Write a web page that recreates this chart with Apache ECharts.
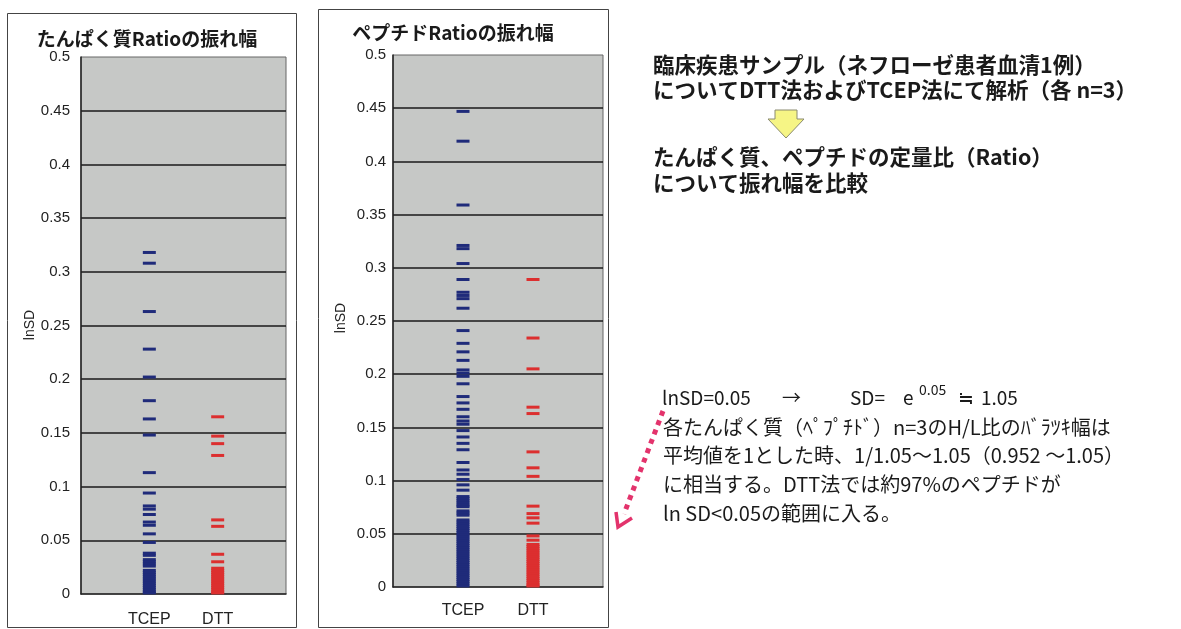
<!DOCTYPE html>
<html>
<head>
<meta charset="utf-8">
<script src="https://cdn.jsdelivr.net/npm/echarts@6/dist/echarts.min.js"></script>
<style>
  html, body { margin: 0; padding: 0; background: #ffffff; }
  #chart { width: 1181px; height: 629px; }
</style>
</head>
<body>
<div id="chart"></div>
<script>
// Reduction methods compared on the x axis
const categories = ['TCEP', 'DTT'];

// lnSD of protein H/L ratios (n=3), per reduction method
const proteinTCEP = [0.318, 0.308, 0.263, 0.228, 0.202, 0.180, 0.163, 0.148, 0.113, 0.094,
  0.082, 0.079, 0.074, 0.067, 0.064, 0.056, 0.048,
  0.038, 0.036, 0.032, 0.030, 0.028, 0.026, 0.022, 0.020, 0.018, 0.016, 0.014, 0.012,
  0.010, 0.008, 0.006, 0.004, 0.002, 0.001];
const proteinDTT = [0.165, 0.147, 0.140, 0.129, 0.069, 0.063, 0.037, 0.030,
  0.024, 0.022, 0.020, 0.018, 0.016, 0.014, 0.012, 0.010, 0.008, 0.006, 0.004, 0.002, 0.001];

// lnSD of peptide H/L ratios (n=3), per reduction method
const peptideTCEP = [0.447, 0.419, 0.359, 0.321, 0.318, 0.304, 0.289, 0.277, 0.274, 0.271,
  0.262, 0.241, 0.229, 0.221, 0.213, 0.204, 0.201, 0.198, 0.191, 0.179, 0.173, 0.167,
  0.160, 0.156, 0.153, 0.147, 0.141, 0.135, 0.129, 0.117, 0.110, 0.106, 0.101, 0.096, 0.091,
  0.085, 0.083, 0.081, 0.079, 0.077, 0.0755, 0.0715, 0.0695, 0.0675,
  0.063, 0.061, 0.059, 0.057, 0.055, 0.053, 0.051, 0.049, 0.047, 0.045, 0.043, 0.041,
  0.039, 0.037, 0.035, 0.033, 0.031, 0.029, 0.027, 0.025, 0.023, 0.021, 0.019, 0.017,
  0.015, 0.013, 0.011, 0.009, 0.007, 0.005, 0.003, 0.001];
const peptideDTT = [0.289, 0.234, 0.205, 0.169, 0.163, 0.127, 0.112, 0.104, 0.076, 0.069,
  0.065, 0.060, 0.048, 0.044, 0.040, 0.038, 0.036, 0.034, 0.032, 0.030, 0.028, 0.026,
  0.024, 0.022, 0.020, 0.018, 0.016, 0.014, 0.012, 0.010, 0.008, 0.006, 0.004, 0.002, 0.001];

// y axis range and step
const yMin = 0, yMax = 0.5, yStep = 0.05;

const chartTitles = ['たんぱく質Ratioの振れ幅', 'ペプチドRatioの振れ幅'];
const yAxisTitle = 'lnSD';

const noteTop = [
  '臨床疾患サンプル（ネフローゼ患者血清1例）',
  'についてDTT法およびTCEP法にて解析（各 n=3）',
  'たんぱく質、ペプチドの定量比（Ratio）',
  'について振れ幅を比較'
];
const noteBottom = [
  '各たんぱく質（ﾍﾟﾌﾟﾁﾄﾞ）n=3のH/L比のﾊﾞﾗﾂｷ幅は',
  '平均値を1とした時、1/1.05～1.05（0.952 ～1.05）',
  'に相当する。DTT法では約97%のペプチドが',
  'ln SD<0.05の範囲に入る。'
];

const BLUE = '#1f2b7a';
const RED = '#dc2f2f';
const JP = '"Noto Sans CJK JP", sans-serif';
const LAT = '"Liberation Sans", Arial, sans-serif';

function pts(cat, arr) {
  const x = categories.indexOf(cat) + 1;
  return arr.map(v => [x, v]);
}

function xAxisFor(gi, margin) {
  return {
    type: 'value', gridIndex: gi, min: 0, max: categories.length + 1, interval: 1,
    axisLine: { show: true, onZero: false, lineStyle: { color: '#222', width: 1.5 } },
    axisTick: { show: false },
    splitLine: { show: false },
    axisLabel: {
      margin: margin, fontSize: 16, color: '#222', fontFamily: LAT,
      formatter: v => categories[v - 1] || ''
    }
  };
}
function yAxisFor(gi, margin) {
  return {
    type: 'value', gridIndex: gi, min: yMin, max: yMax, interval: yStep,
    axisLine: { show: true, lineStyle: { color: '#222', width: 1.5 } },
    axisTick: { show: false },
    splitLine: { show: true, showMinLine: false, showMaxLine: false,
      lineStyle: { color: '#1a1a1a', width: 1.5 } },
    axisLabel: { margin: margin, fontSize: 15, color: '#222', fontFamily: LAT }
  };
}
function marks(gi, data, color) {
  return {
    type: 'scatter', xAxisIndex: gi, yAxisIndex: gi, data: data,
    symbol: 'rect', symbolSize: [13, 3], silent: true,
    itemStyle: { color: color, opacity: 1 }
  };
}

function txt(x, y, text, size, weight, align, family) {
  return {
    type: 'text', x: x, y: y, silent: true,
    style: {
      text: text, fontSize: size, fontWeight: weight || 'normal',
      fontFamily: family || JP, fill: '#1a1a1a', align: align || 'left', verticalAlign: 'middle'
    }
  };
}

const graphics = [
  // chart frames
  { type: 'rect', shape: { x: 7.5, y: 13.5, width: 289, height: 614 },
    style: { fill: 'none', stroke: '#444', lineWidth: 1 }, silent: true, z: -1 },
  { type: 'rect', shape: { x: 318.5, y: 9.5, width: 290, height: 618 },
    style: { fill: 'none', stroke: '#444', lineWidth: 1 }, silent: true, z: -1 },
  // chart titles
  txt(147, 39, chartTitles[0], 19, 'bold', 'center'),
  txt(453, 33, chartTitles[1], 19, 'bold', 'center'),
  // y axis titles
  { type: 'text', x: 30, y: 325, rotation: Math.PI / 2, silent: true,
    style: { text: yAxisTitle, fontSize: 14, fontFamily: LAT, fill: '#222', align: 'center', verticalAlign: 'middle' } },
  { type: 'text', x: 341, y: 318, rotation: Math.PI / 2, silent: true,
    style: { text: yAxisTitle, fontSize: 14, fontFamily: LAT, fill: '#222', align: 'center', verticalAlign: 'middle' } },
  // notes on the right
  txt(653, 65, noteTop[0], 21.5, 'bold'),
  txt(653, 90, noteTop[1], 21.5, 'bold'),
  txt(653, 157, noteTop[2], 21.5, 'bold'),
  txt(653, 183, noteTop[3], 21.5, 'bold'),
  // yellow down arrow
  { type: 'polygon', silent: true,
    shape: { points: [[775, 110], [797, 110], [797, 119], [804, 119], [786, 138], [768, 119], [775, 119]] },
    style: { fill: '#f6f585', stroke: '#8a8a70', lineWidth: 1 } },
  // lnSD to SD conversion line
  txt(662, 398, 'lnSD=0.05', 19, 'normal'),
  txt(782, 398, '→', 19, 'normal'),
  txt(850, 398, 'SD=', 19, 'normal'),
  txt(903, 398, 'e', 19, 'normal'),
  txt(919, 390, '0.05', 14, 'normal'),
  txt(958, 398, '≒', 19, 'normal'),
  txt(981, 398, '1.05', 19, 'normal'),
  txt(663, 427, noteBottom[0], 20, 'normal'),
  txt(663, 455, noteBottom[1], 20, 'normal'),
  txt(663, 484, noteBottom[2], 20, 'normal'),
  txt(663, 513, noteBottom[3], 20, 'normal'),
  // dotted pointer toward the charts
  { type: 'line', silent: true, shape: { x1: 663, y1: 411, x2: 624, y2: 514 },
    style: { stroke: '#e3336c', lineWidth: 5, lineDash: [5, 5] } },
  { type: 'polyline', silent: true, shape: { points: [[616, 512], [618, 527], [632, 518]] },
    style: { stroke: '#e3336c', lineWidth: 3.5, fill: null } }
];

const chart = echarts.init(document.getElementById('chart'));
chart.setOption({
  animation: false,
  backgroundColor: '#ffffff',
  grid: [
    { left: 81, top: 57, width: 205, height: 537, show: true, backgroundColor: '#c6c8c6',
      borderColor: '#666', borderWidth: 1 },
    { left: 393, top: 55, width: 210, height: 532, show: true, backgroundColor: '#c6c8c6',
      borderColor: '#666', borderWidth: 1 }
  ],
  xAxis: [xAxisFor(0, 18), xAxisFor(1, 16)],
  yAxis: [yAxisFor(0, 11), yAxisFor(1, 7)],
  series: [
    marks(0, pts('TCEP', proteinTCEP), BLUE),
    marks(0, pts('DTT', proteinDTT), RED),
    marks(1, pts('TCEP', peptideTCEP), BLUE),
    marks(1, pts('DTT', peptideDTT), RED)
  ],
  graphic: graphics
});
</script>
</body>
</html>
